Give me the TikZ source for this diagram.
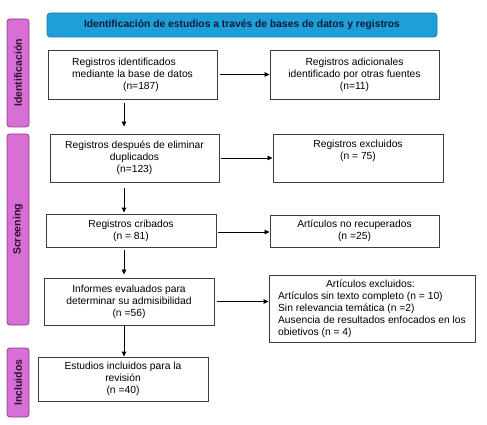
\documentclass[tikz,border=0pt]{standalone}
\usepackage{fontspec}
\setmainfont{Liberation Sans}
\usetikzlibrary{arrows.meta,calc}
\definecolor{hdrfill}{HTML}{1E9FD8}
\definecolor{hdrdraw}{HTML}{1779A8}
\definecolor{hdrtext}{HTML}{14183A}
\definecolor{sidefill}{HTML}{D86FD5}
\definecolor{sidedraw}{HTML}{8A3E88}
\definecolor{sidetext}{HTML}{2A1030}
\definecolor{boxdraw}{HTML}{3C3C3C}
\begin{document}
\begin{tikzpicture}[x=1pt,y=-1pt,
  every node/.style={font=\fontsize{10.3}{12}\selectfont, inner sep=0pt},
  box/.style={draw=boxdraw, line width=0.9pt, fill=white, align=center},
  side/.style={draw=sidedraw, fill=sidefill, rounded corners=3pt, rotate=90,
     line width=0.8pt, text=sidetext, font=\fontsize{10.5}{12}\selectfont\bfseries, minimum height=22pt},
  arr/.style={-{Triangle[length=5pt,width=4.5pt]}, line width=0.8pt, black}]
\useasboundingbox (0,0) rectangle (487,425);
% header
\node[draw=hdrdraw, fill=hdrfill, rounded corners=3pt, line width=0.6pt,
  minimum width=390pt, minimum height=24pt, text=hdrtext,
  font=\fontsize{10.3}{12}\selectfont\bfseries] (hdr) at (242,25)
  {Identificación de estudios a través de bases de datos y registros};
% side bars
\node[side, minimum width=108pt] (s1) at (18,73) {Identificación};
\node[side, minimum width=191pt] (s2) at (18,229.5) {Screening};
\node[side, minimum width=69pt] (s3) at (18,382.5) {Incluidos};
% boxes
\node[box, align=left, minimum width=169pt, minimum height=49pt] (b1) at (132.5,74.5)
  {Registros identificados\\mediante la base de datos\\\hspace*{51pt}(n=187)};
\node[box, minimum width=169pt, minimum height=49pt] (b2) at (354.5,74.5)
  {Registros adicionales\\identificado por otras fuentes\\(n=11)};
\node[box, minimum width=169pt, minimum height=48pt] (b3) at (134.5,158)
  {Registros después de eliminar\\duplicados\\(n=123)};
\node[box, minimum width=170pt, minimum height=48pt] (b4) at (358,158)
  {Registros excluidos\\(n = 75)\\\strut};
\node[box, minimum width=170pt, minimum height=33pt] (b5) at (131,230.5)
  {Registros cribados\\(n = 81)};
\node[box, minimum width=169pt, minimum height=32pt] (b6) at (354.5,231)
  {Artículos no recuperados\\(n =25)};
\node[box, minimum width=170pt, minimum height=47pt] (b7) at (129,301.5)
  {Informes evaluados para\\determinar su admisibilidad\\(n =56)};
\node[box, align=left, minimum width=206pt, minimum height=67pt] (b8) at (372,308.5)
  {\hspace*{48pt}Artículos excluidos:\\Artículos sin texto completo (n = 10)\\Sin relevancia temática (n =2)\\Ausencia de resultados enfocados en los\\obietivos (n = 4)};
\node[box, minimum width=170pt, minimum height=44pt] (b9) at (123,379)
  {Estudios incluidos para la\\revisión\\(n =40)};
% arrows
\coordinate (ax) at (124,0);
\draw[arr] ([xshift=3pt]b1.east) -- (b2.west);
\draw[arr] ([xshift=2pt]b3.east) -- (b3.east -| b4.west);
\draw[arr] ([xshift=2pt,yshift=-1.5pt]b5.east) -- ([yshift=-1.5pt]b5.east -| b6.west);
\draw[arr] ([xshift=3pt]b7.east) -- (b7.east -| b8.west);
\draw[arr] ([yshift=-4pt]b1.south -| ax) -- ([yshift=7pt]b3.north -| ax);
\draw[arr] ([yshift=-6pt]b3.south -| ax) -- ([yshift=1pt]b5.north -| ax);
\draw[arr] ([yshift=-3pt]b5.south -| ax) -- ([yshift=3pt]b7.north -| ax);
\draw[arr] (b7.south -| ax) -- (b9.north -| ax);
\end{tikzpicture}
\end{document}
